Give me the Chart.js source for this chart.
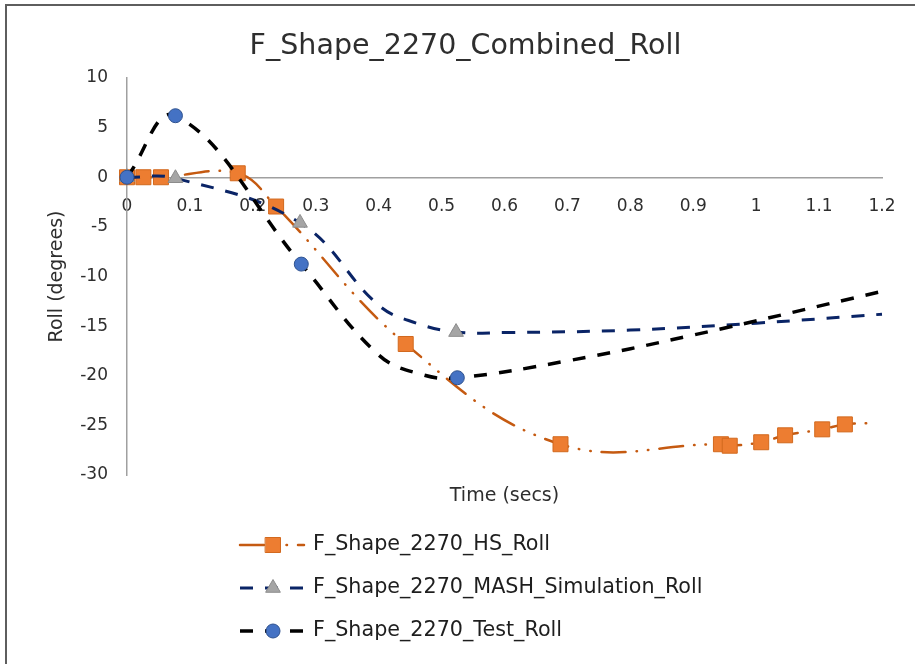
<!DOCTYPE html>
<html>
<head>
<meta charset="utf-8">
<title>F_Shape_2270_Combined_Roll</title>
<script src="https://cdn.jsdelivr.net/npm/chart.js@4/dist/chart.umd.min.js"></script>
<style>
  html, body { margin: 0; padding: 0; background: #ffffff; }
  #wrap { position: relative; width: 915px; height: 664px; overflow: hidden; }
  #wrap canvas { position: absolute; left: 0; top: 0; }
  #frame {
    position: absolute; left: 5px; top: 4px; width: 960px; height: 720px;
    border-left: 2px solid #5e5e5e; border-top: 2px solid #5e5e5e;
    pointer-events: none;
  }
</style>
</head>
<body>
<div id="wrap">
  <canvas id="rollChart" width="915" height="664"></canvas>
  <div id="frame"></div>
</div>
<script>
// ---- labels ----
const chartTitle = 'F_Shape_2270_Combined_Roll';
const xAxisTitle = 'Time (secs)';
const yAxisTitle = 'Roll (degrees)';
const seriesNames = [
  'F_Shape_2270_HS_Roll',
  'F_Shape_2270_MASH_Simulation_Roll',
  'F_Shape_2270_Test_Roll'
];
const xTicks = [0, 0.1, 0.2, 0.3, 0.4, 0.5, 0.6, 0.7, 0.8, 0.9, 1, 1.1, 1.2];
const yTicks = [10, 5, 0, -5, -10, -15, -20, -25, -30];

// ---- HS roll: sampled points (marked) and extra curve points (unmarked) ----
const hsTime = [0, 0.026, 0.054, 0.176, 0.237, 0.443, 0.689, 0.944, 0.958, 1.008, 1.046, 1.105, 1.141];
const hsRoll = [0, 0, 0, 0.4, -2.95, -16.8, -26.9, -26.9, -27.05, -26.7, -26.0, -25.4, -24.9];
const hsCurveTime = [1.19];
const hsCurveRoll = [-24.75];

// ---- MASH simulation roll ----
const mashTime = [0, 0.077, 0.275, 0.523];
const mashRoll = [0, -0.1, -4.6, -15.6];
const mashCurveTime = [0.40, 0.46, 0.60, 0.80, 1.00, 1.20];
const mashCurveRoll = [-12.9, -14.7, -15.65, -15.4, -14.7, -13.8];

// ---- Test roll ----
const testTime = [0, 0.077, 0.277, 0.525];
const testRoll = [0, 6.2, -8.75, -20.2];
const testCurveTime = [0.40, 0.47, 0.70, 0.90, 1.20];
const testCurveRoll = [-17.9, -19.9, -18.5, -15.9, -11.5];

// merge marked samples and curve-only points into one ordered trace
function buildTrace(t, v, ct, cv) {
  const pts = t.map((x, i) => ({ x: x, y: v[i], marked: true }))
    .concat(ct.map((x, i) => ({ x: x, y: cv[i], marked: false })));
  pts.sort((a, b) => a.x - b.x);
  return pts;
}

const FONT = '"DejaVu Sans", "Liberation Sans", sans-serif';
const TEXT_DARK = '#2e2e2e';

function markerRadius(r) {
  return (ctx) => (ctx.raw && ctx.raw.marked ? r : 0);
}

const datasets = [
  {
    label: seriesNames[0],
    data: buildTrace(hsTime, hsRoll, hsCurveTime, hsCurveRoll),
    borderColor: '#C55A11',
    borderWidth: 2.5,
    borderDash: [24, 11, 0.5, 11, 0.5, 11],
    borderCapStyle: 'round',
    pointStyle: 'rect',
    legendRadius: 10.6,
    pointRadius: markerRadius(10.6),
    pointBackgroundColor: '#ED7D31',
    pointBorderColor: '#D2691E',
    pointBorderWidth: 1,
    order: 2
  },
  {
    label: seriesNames[1],
    data: buildTrace(mashTime, mashRoll, mashCurveTime, mashCurveRoll),
    borderColor: '#0A2466',
    borderWidth: 3,
    borderDash: [13, 12],
    pointStyle: 'triangle',
    legendRadius: 8.5,
    pointRadius: markerRadius(8.5),
    pointBackgroundColor: '#A5A5A5',
    pointBorderColor: '#8C8C8C',
    pointBorderWidth: 1,
    order: 1
  },
  {
    label: seriesNames[2],
    data: buildTrace(testTime, testRoll, testCurveTime, testCurveRoll),
    borderColor: '#000000',
    borderWidth: 3.5,
    borderDash: [13, 12],
    pointStyle: 'circle',
    legendRadius: 7,
    pointRadius: markerRadius(7),
    pointBackgroundColor: '#4472C4',
    pointBorderColor: '#2F528F',
    pointBorderWidth: 1,
    order: 0
  }
];

// small marker painter for the legend samples
function paintMarker(ctx, style, r, x, y) {
  ctx.beginPath();
  if (style === 'rect') {
    const s = r * Math.SQRT1_2;
    ctx.rect(x - s, y - s, 2 * s, 2 * s);
  } else if (style === 'triangle') {
    for (let k = 0; k < 3; k++) {
      const a = k * 2 * Math.PI / 3;
      const px = x + Math.sin(a) * r, py = y - Math.cos(a) * r;
      if (k === 0) ctx.moveTo(px, py); else ctx.lineTo(px, py);
    }
    ctx.closePath();
  } else {
    ctx.arc(x, y, r, 0, Math.PI * 2);
  }
  ctx.fill();
  ctx.stroke();
}

// chart title, x-axis caption and a stacked legend under the plot
const captionAndLegend = {
  id: 'captionAndLegend',
  afterDraw(chart) {
    const ctx = chart.ctx;
    const area = chart.chartArea;
    ctx.save();
    ctx.fillStyle = TEXT_DARK;
    ctx.textAlign = 'center';
    ctx.textBaseline = 'middle';

    ctx.font = '28.5px ' + FONT;
    ctx.fillText(chartTitle, 465.5, 47);

    ctx.font = '19px ' + FONT;
    ctx.fillText(xAxisTitle, (area.left + area.right) / 2, area.bottom + 21);

    const lineX0 = 240, lineX1 = 304, markX = 273, textX = 313;
    chart.data.datasets.forEach((ds, i) => {
      const y = area.bottom + 70 + i * 43;
      ctx.save();
      ctx.strokeStyle = ds.borderColor;
      ctx.lineWidth = ds.borderWidth;
      ctx.lineCap = ds.borderCapStyle || 'butt';
      ctx.setLineDash(ds.borderDash || []);
      ctx.beginPath();
      ctx.moveTo(lineX0, y);
      ctx.lineTo(lineX1, y);
      ctx.stroke();
      ctx.setLineDash([]);
      ctx.lineWidth = ds.pointBorderWidth;
      ctx.fillStyle = ds.pointBackgroundColor;
      ctx.strokeStyle = ds.pointBorderColor;
      paintMarker(ctx, ds.pointStyle, ds.legendRadius, markX, y);
      ctx.restore();

      ctx.fillStyle = '#1e1e1e';
      ctx.font = '20.7px ' + FONT;
      ctx.textAlign = 'left';
      ctx.textBaseline = 'middle';
      ctx.fillText(ds.label, textX, y);
    });
    ctx.restore();
  }
};

const fmt = (v) => String(Math.round(v * 10) / 10);

new Chart(document.getElementById('rollChart'), {
  type: 'scatter',
  data: { datasets: datasets },
  options: {
    responsive: false,
    animation: false,
    devicePixelRatio: 1,
    layout: { padding: { left: 0, right: 33, top: 78, bottom: 189 } },
    elements: { line: { tension: 0.4, fill: false } },
    datasets: { scatter: { showLine: true, clip: false } },
    plugins: {
      legend: { display: false },
      tooltip: { enabled: false },
      title: { display: false }
    },
    scales: {
      x: {
        type: 'linear',
        min: 0, max: 1.2,
        position: { y: 0 },
        afterBuildTicks: (scale) => { scale.ticks = xTicks.map(v => ({ value: v })); },
        ticks: {
          autoSkip: false, maxRotation: 0, padding: 19,
          color: TEXT_DARK,
          font: { family: FONT, size: 17 },
          callback: (v) => fmt(v)
        },
        grid: { display: false, drawTicks: false },
        border: { display: true, color: '#A0A0A0', width: 1.5 }
      },
      y: {
        type: 'linear',
        min: -30, max: 10,
        position: 'left',
        afterFit: (scale) => { scale.width = 127; },
        afterBuildTicks: (scale) => { scale.ticks = yTicks.map(v => ({ value: v })); },
        ticks: {
          padding: 19,
          color: TEXT_DARK,
          font: { family: FONT, size: 17 },
          callback: (v) => fmt(v)
        },
        grid: { display: false, drawTicks: false },
        border: { display: true, color: '#A0A0A0', width: 1.5 },
        title: {
          display: true,
          text: yAxisTitle,
          color: TEXT_DARK,
          font: { family: FONT, size: 19, weight: 'normal' },
          padding: { top: 45.6, bottom: 0 }
        }
      }
    }
  },
  plugins: [captionAndLegend]
});
</script>
</body>
</html>
